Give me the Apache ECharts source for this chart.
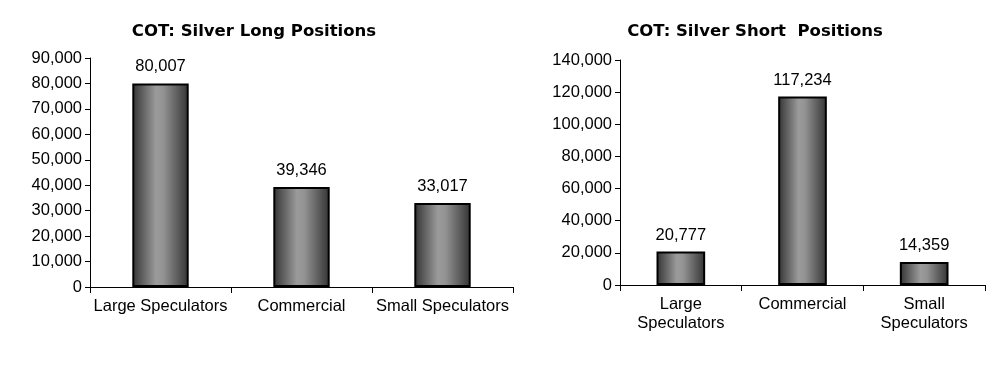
<!DOCTYPE html>
<html><head><meta charset="utf-8">
<script src="https://cdn.jsdelivr.net/npm/echarts@6/dist/echarts.min.js"></script>
<style>html,body{margin:0;padding:0;background:#fff}#c{width:1008px;height:382px}</style>
</head><body><div id="c"></div>
<script>
const longCategories = ["Large Speculators", "Commercial", "Small Speculators"];
const longValues = [80007, 39346, 33017];
const shortCategories = ["Large\nSpeculators", "Commercial", "Small\nSpeculators"];
const shortValues = [20777, 117234, 14359];
const longTitle = "COT: Silver Long Positions";
const shortTitle = "COT: Silver Short  Positions";

const barFill = {
  type: 'linear', x: 0, y: 0, x2: 1, y2: 0,
  colorStops: [
    {offset: 0, color: '#333333'},
    {offset: 0.42, color: '#9b9b9b'},
    {offset: 0.55, color: '#939393'},
    {offset: 1, color: '#333333'}
  ]
};
const fmt = v => v.toLocaleString('en-US');
const txt = {color: '#000', fontFamily: 'Liberation Sans, Arial, sans-serif', fontSize: 16.5};

function xAx(idx, cats) {
  return {
    type: 'category', gridIndex: idx, data: cats, boundaryGap: true,
    axisLine: {lineStyle: {color: '#000', width: 1}},
    axisTick: {show: true, alignWithLabel: false, length: 6, lineStyle: {color: '#000'}},
    axisLabel: Object.assign({margin: 10, interval: 0, lineHeight: 19}, txt)
  };
}
function yAx(idx, max, interval) {
  return {
    type: 'value', gridIndex: idx, min: 0, max: max, interval: interval,
    axisLine: {show: true, lineStyle: {color: '#000', width: 1}},
    axisTick: {show: true, length: 5, lineStyle: {color: '#000'}},
    splitLine: {show: false},
    axisLabel: Object.assign({margin: 8, formatter: fmt}, txt)
  };
}
function bar(idx, vals) {
  return {
    type: 'bar', xAxisIndex: idx, yAxisIndex: idx, data: vals, barWidth: '40%',
    itemStyle: {color: barFill, borderColor: '#000', borderWidth: 2},
    label: Object.assign({show: true, position: 'top', distance: 8, formatter: p => fmt(p.value)}, txt),
    animation: false
  };
}

const titleStyle = {fontFamily: 'DejaVu Sans, Verdana, sans-serif', fontWeight: 'bold', fontSize: 16.5, color: '#000'};
const chart = echarts.init(document.getElementById('c'), null, {renderer: 'canvas'});
chart.setOption({
  backgroundColor: '#fff',
  animation: false,
  title: [
    {text: longTitle, left: 249, top: 18, textAlign: 'center', textStyle: titleStyle},
    {text: shortTitle, left: 750, top: 18, textAlign: 'center', textStyle: titleStyle}
  ],
  grid: [
    {left: 90, right: 495, top: 58, bottom: 95},
    {left: 620, right: 23, top: 60, bottom: 97}
  ],
  xAxis: [xAx(0, longCategories), xAx(1, shortCategories)],
  yAxis: [yAx(0, 90000, 10000), yAx(1, 140000, 20000)],
  series: [bar(0, longValues), bar(1, shortValues)]
});
</script></body></html>
